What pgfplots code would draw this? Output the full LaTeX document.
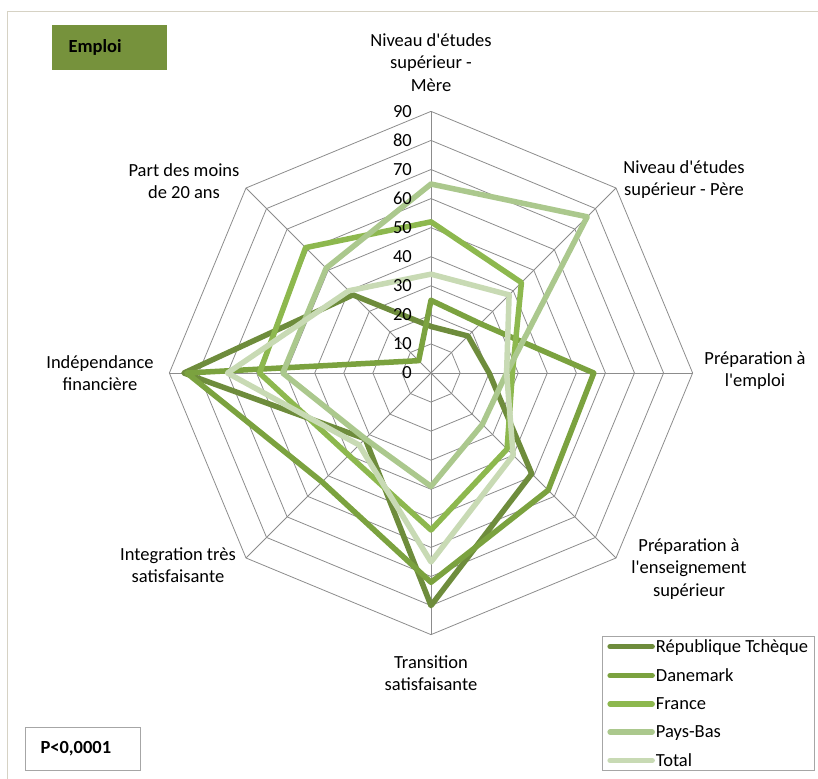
\documentclass[border=0pt]{standalone}
\usepackage{pgfplots}
\pgfplotsset{compat=1.18}
\usepackage{fontspec}
\setmainfont{Carlito}[Ligatures=TeXOff]

\definecolor{czc}{HTML}{6E8C3C}
\definecolor{dkc}{HTML}{7BA23F}
\definecolor{frc}{HTML}{8DB84E}
\definecolor{nlc}{HTML}{ABC88D}
\definecolor{totc}{HTML}{C8DAB4}
\definecolor{gridc}{HTML}{8C8C8C}
\definecolor{framec}{HTML}{D6D2C4}
\definecolor{emploic}{HTML}{76923C}

\newcommand\lbl{\fontsize{18.5}{22.5}\selectfont}

\begin{document}
\begin{tikzpicture}[x=1pt,y=1pt]
\useasboundingbox (-431,-405) rectangle (387,373);
% outer frame of the chart area
\draw[framec, line width=1pt] (-423,-420) -- (-423,361) -- (400,361);

\begin{axis}[
  at={(0,0)}, anchor=origin,
  x=2.907pt, y=2.907pt,
  xmin=-95, xmax=95, ymin=-95, ymax=95,
  hide axis, clip=false,
  data cs=polar,
  legend style={at={(0.8096,0.0238)}, anchor=north west,
    draw=gray!70, line width=0.8pt, font=\lbl,
    inner xsep=5pt, inner ysep=1pt, row sep=10.6pt,
    nodes={inner xsep=1pt}},
  legend cell align=left,
  legend image code/.code={\draw[#1] (0pt,0pt) -- (42pt,0pt);},
  series/.style={line width=5.5pt, line join=round, line cap=round},
]
% octagonal grid rings
\pgfplotsinvokeforeach{10,20,...,90}{
  \addplot[gridc, line width=0.8pt, forget plot] coordinates
    {(90,#1) (45,#1) (0,#1) (-45,#1) (-90,#1) (-135,#1) (180,#1) (135,#1) (90,#1)};
}
% spokes
\pgfplotsinvokeforeach{90,45,0,-45,-90,-135,180,135}{
  \addplot[gridc, line width=0.8pt, forget plot] coordinates {(#1,0) (#1,90)};
}

% angle: 90 Mere, 45 Pere, 0 emploi, -45 ens. sup., -90 transition,
%        -135 integration, 180 independance, 135 moins de 20 ans
\addplot[czc, series] coordinates
  {(90,16) (45,18) (0,20) (-45,49) (-90,80) (-135,32) (180,85) (135,38) (90,16)};
\addlegendentry{République Tchèque}
\addplot[dkc, series] coordinates
  {(90,25) (45,24) (0,56) (-45,57) (-90,72) (-135,53) (180,84) (135,6) (90,25)};
\addlegendentry{Danemark}
\addplot[frc, series] coordinates
  {(90,52) (45,44) (0,28) (-45,37) (-90,54) (-135,40) (180,59) (135,61) (90,52)};
\addlegendentry{France}
\addplot[nlc, series] coordinates
  {(90,65) (45,76) (0,26) (-45,25) (-90,39) (-135,32) (180,51) (135,51) (90,65)};
\addlegendentry{Pays-Bas}
\addplot[totc, series] coordinates
  {(90,34) (45,38) (0,26) (-45,40) (-90,65) (-135,35) (180,70) (135,40) (90,34)};
\addlegendentry{Total}
\end{axis}

% radial scale
\foreach \v in {0,10,...,90}{
  \node[anchor=east, font=\lbl, inner sep=0pt] at (-19,{2.907*\v}) {\v};
}

% category labels
\node[align=center, font=\lbl] at (0,310.5) {Niveau d'études\\supérieur -\\Mère};
\node[align=center, font=\lbl] at (253,193.5) {Niveau d'études\\supérieur - Père};
\node[align=center, font=\lbl] at (324,2.5) {Préparation à\\l'emploi};
\node[align=center, font=\lbl] at (258,-196) {Préparation à\\l'enseignement\\supérieur};
\node[align=center, font=\lbl] at (0,-300) {Transition\\satisfaisante};
\node[align=center, font=\lbl] at (-253,-192) {Integration très\\satisfaisante};
\node[align=center, font=\lbl] at (-331,0) {Indépendance\\financière};
\node[align=center, font=\lbl] at (-247,192) {Part des moins\\de 20 ans};

% title box
\fill[emploic] (-379,348) rectangle (-264,303);
\node[anchor=west, font=\lbl\bfseries] at (-366,325.5) {Emploi};

% p-value box
\draw[gray!70, line width=0.8pt, fill=white] (-406,-354) rectangle (-291,-397);
\node[anchor=west, font=\lbl\bfseries] at (-394,-375.5) {P<0,0001};
\end{tikzpicture}
\end{document}
